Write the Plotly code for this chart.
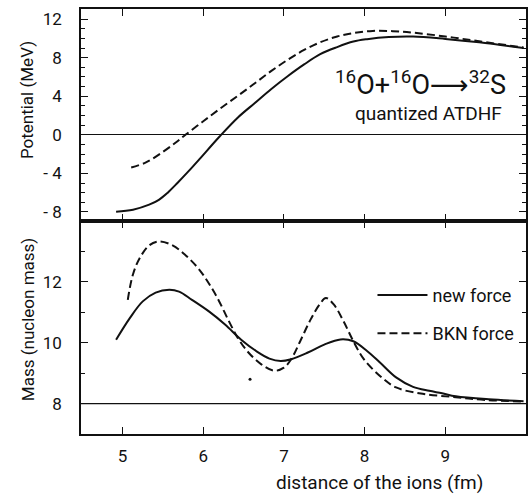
import plotly.graph_objects as go

# ---- data ----
pot_new_x = [4.92, 5.13, 5.33, 5.45, 5.56, 5.68, 5.81, 5.94, 6.2, 6.43, 6.64, 6.84, 7.05, 7.25, 7.45, 7.66, 7.86, 8.03, 8.3, 8.6, 9.0, 9.42, 9.97]
pot_new_y = [-7.98, -7.77, -7.25, -6.75, -6.0, -5.0, -3.85, -2.65, -0.2, 1.8, 3.3, 4.73, 6.1, 7.3, 8.36, 9.1, 9.67, 9.92, 10.15, 10.2, 9.95, 9.6, 9.0]

pot_bkn_x = [5.107, 5.29, 5.49, 5.66, 5.78, 5.98, 6.19, 6.43, 6.64, 6.84, 7.05, 7.25, 7.45, 7.66, 7.86, 8.1, 8.35, 8.6, 9.0, 9.42, 9.97]
pot_bkn_y = [-3.39, -2.87, -1.83, -0.8, 0.0, 1.28, 2.6, 4.05, 5.35, 6.6, 7.8, 8.8, 9.6, 10.2, 10.55, 10.78, 10.75, 10.6, 10.2, 9.7, 9.05]

mass_new_x = [4.92, 5.09, 5.25, 5.41, 5.58, 5.70, 5.86, 6.07, 6.27, 6.47, 6.66, 6.82, 6.96, 7.09, 7.29, 7.5, 7.70, 7.86, 8.03, 8.19, 8.39, 8.6, 8.8, 8.96, 9.13, 9.54, 9.97]
mass_new_y = [10.1, 10.81, 11.36, 11.65, 11.74, 11.68, 11.41, 11.03, 10.6, 10.1, 9.72, 9.48, 9.4, 9.46, 9.67, 9.94, 10.11, 10.05, 9.73, 9.35, 8.86, 8.55, 8.42, 8.34, 8.24, 8.14, 8.08]

mass_bkn_x = [5.065, 5.126, 5.21, 5.33, 5.45, 5.62, 5.78, 5.94, 6.07, 6.19, 6.31, 6.43, 6.56, 6.72, 6.88, 7.0, 7.09, 7.21, 7.33, 7.44, 7.52, 7.62, 7.74, 7.86, 7.99, 8.19, 8.39, 8.72, 9.13, 9.5, 9.97]
mass_bkn_y = [11.41, 12.22, 12.77, 13.2, 13.33, 13.2, 12.88, 12.44, 11.95, 11.4, 10.75, 10.15, 9.68, 9.29, 9.08, 9.18, 9.46, 10.1, 10.76, 11.25, 11.47, 11.25, 10.7, 10.05, 9.46, 8.91, 8.53, 8.32, 8.21, 8.12, 8.07]

stray_x = [6.58]
stray_y = [8.8]

x_ticks = [5, 6, 7, 8, 9]
pot_ticks = [-8, -4, 0, 4, 8, 12]
pot_ticktext = ["- 8", "- 4", "0", "4", "8", "12"]
mass_ticks = [8, 10, 12]
legend_names = ["new force", "BKN force"]

FONT = "Roboto, Liberation Sans, DejaVu Sans"
BLACK = "#111111"

fig = go.Figure()

fig.add_trace(go.Scatter(x=pot_new_x, y=pot_new_y, xaxis="x2", yaxis="y2", mode="lines",
                         line=dict(color=BLACK, width=2, shape="spline", smoothing=1.0), showlegend=False))
fig.add_trace(go.Scatter(x=pot_bkn_x, y=pot_bkn_y, xaxis="x2", yaxis="y2", mode="lines",
                         line=dict(color=BLACK, width=2, shape="spline", smoothing=1.0, dash="8px,4px"),
                         showlegend=False))
fig.add_trace(go.Scatter(x=mass_new_x, y=mass_new_y, xaxis="x", yaxis="y", mode="lines",
                         name=legend_names[0], legendgroup="a",
                         line=dict(color=BLACK, width=2, shape="spline", smoothing=1.0)))
fig.add_trace(go.Scatter(x=mass_bkn_x, y=mass_bkn_y, xaxis="x", yaxis="y", mode="lines",
                         name=legend_names[1], legendgroup="b",
                         line=dict(color=BLACK, width=2, shape="spline", smoothing=1.0, dash="8px,4px")))
fig.add_trace(go.Scatter(x=stray_x, y=stray_y, xaxis="x", yaxis="y", mode="markers",
                         marker=dict(color=BLACK, size=3, symbol="circle"), showlegend=False))

axis_common = dict(showline=True, linecolor=BLACK, linewidth=1.5, ticks="inside",
                   tickcolor=BLACK, tickwidth=1.4, showgrid=False, mirror="ticks")

fig.update_layout(
    width=529, height=498,
    margin=dict(l=81, r=1, t=9, b=64),
    paper_bgcolor="white", plot_bgcolor="white",
    font=dict(family=FONT, color=BLACK, size=17),
    xaxis=dict(domain=[0, 1], anchor="y", range=[4.485, 10.0], tickvals=x_ticks,
               ticklen=7, zeroline=False, ticklabelstandoff=6, **axis_common),
    xaxis2=dict(domain=[0, 1], anchor="y2", matches="x", range=[4.485, 10.0], tickvals=x_ticks,
                ticklen=7, showticklabels=False, zeroline=False, **axis_common),
    yaxis=dict(domain=[0, 0.501], anchor="x", range=[7, 14], tickvals=mass_ticks,
               ticklen=7, zeroline=False, ticklabelstandoff=14,
               minor=dict(dtick=1, tick0=0, ticks="inside", ticklen=4, tickcolor=BLACK, tickwidth=1.2),
               **axis_common),
    yaxis2=dict(domain=[0.501, 1], anchor="x2", range=[-8.95, 13.05], tickvals=pot_ticks,
                ticktext=pot_ticktext, ticklen=7, zeroline=True, zerolinecolor=BLACK, zerolinewidth=1.2,
                ticklabelstandoff=14,
                minor=dict(dtick=1, tick0=0, ticks="inside", ticklen=4, tickcolor=BLACK, tickwidth=1.2),
                **axis_common),
    legend=dict(x=0.655, y=0.37, xanchor="left", yanchor="top", bgcolor="rgba(0,0,0,0)",
                font=dict(size=18, family=FONT), traceorder="grouped", tracegroupgap=12,
                itemwidth=50),
    shapes=[dict(type="line", xref="x domain", yref="y", x0=0, x1=1, y0=8, y1=8,
                 line=dict(color=BLACK, width=1.2))],
    annotations=[
        dict(text="Potential (MeV)", xref="paper", yref="paper", x=-0.121, y=0.786,
             xanchor="center", yanchor="middle",
             textangle=-90, showarrow=False, font=dict(size=17)),
        dict(text="Mass (nucleon mass)", xref="paper", yref="paper", x=-0.119, y=0.268,
             xanchor="center", yanchor="middle",
             textangle=-90, showarrow=False, font=dict(size=17)),
        dict(text="distance of the ions (fm)", xref="paper", yref="paper", x=0.671, y=-0.115,
             xanchor="center", yanchor="middle", showarrow=False, font=dict(size=19)),
        dict(text="<sup>16</sup>O+<sup>16</sup>O\u27f6<sup>32</sup>S", xref="paper", yref="paper",
             x=0.762, y=0.826, xanchor="center", yanchor="middle", showarrow=False, font=dict(size=27)),
        dict(text="quantized ATDHF", xref="paper", yref="paper", x=0.781, y=0.755,
             xanchor="center", yanchor="middle", showarrow=False, font=dict(size=19)),
    ],
)

fig.write_html("out.html", config={"displayModeBar": False},
               post_script="document.body.style.margin='0';")
